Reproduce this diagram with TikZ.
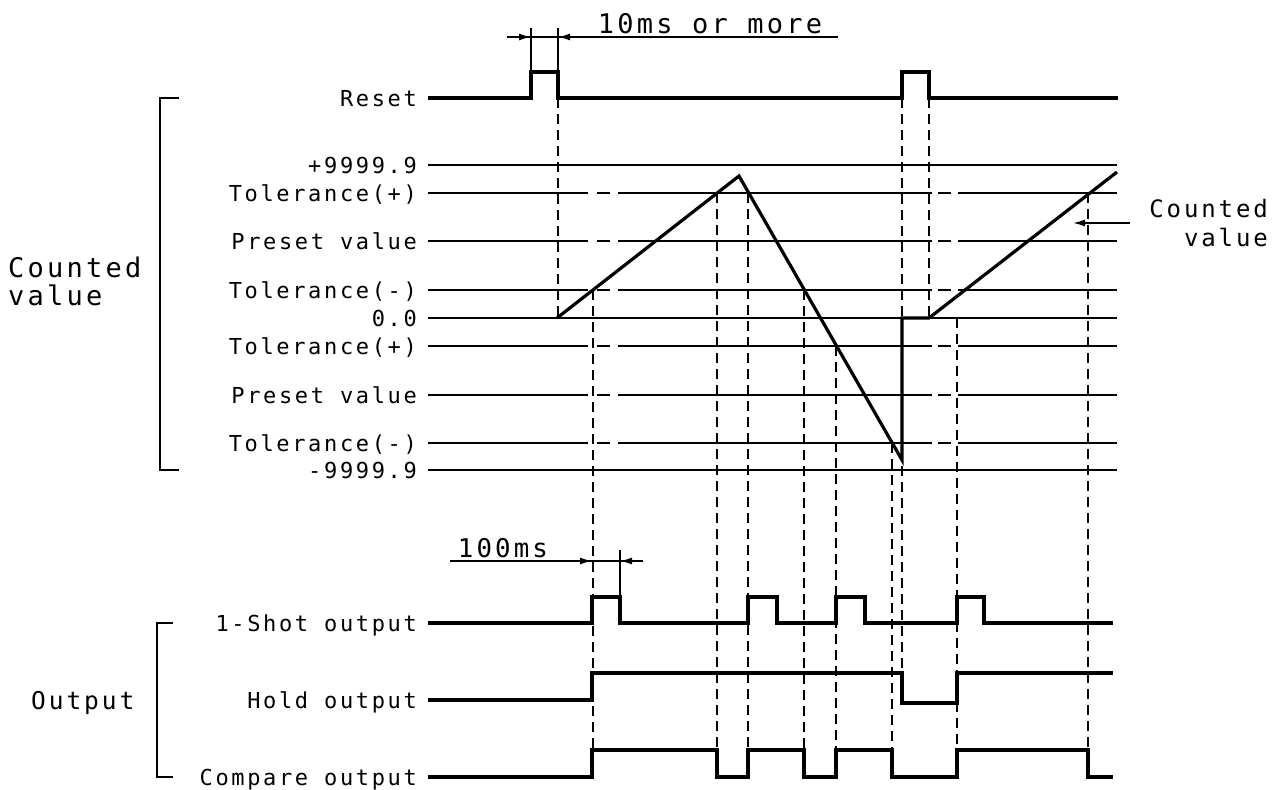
\documentclass[tikz,border=0pt]{standalone}
\usepackage{fontspec}
\usepackage{tikz}
\usetikzlibrary{positioning,arrows.meta}
\newfontfamily\plotter[LetterSpace=12]{DejaVu Sans Mono}
\tikzstyle{lbl}=[%
      anchor=base east, inner sep=0pt, font=\plotter\fontsize{22}{26}\selectfont
]
\tikzstyle{big}=[%
      inner sep=0pt, align=left, font=\plotter\fontsize{27}{28}\selectfont
]
\tikzstyle{level}=[line width=2.6pt]
\tikzstyle{sig}=[line width=3.2pt, line join=miter]
\tikzstyle{guide}=[line width=2.2pt, dash pattern=on 10pt off 6pt]
\tikzstyle{dim}=[line width=1.6pt, -{Latex[length=12pt,width=7pt]}]
\tikzstyle{tick}=[line width=1.2pt]
\begin{document}
\begin{tikzpicture}[x=1pt, y=-1pt]
    \useasboundingbox (0,0) rectangle (1283,790);

    % level labels
    \foreach \y/\txt/\nm in {98/Reset/rst, 165/+9999.9/max, 193/Tolerance(+)/tpa,
        241/Preset value/pra, 290/Tolerance(-)/tma, 318/0.0/zero, 346/Tolerance(+)/tpb,
        395/Preset value/prb, 443/Tolerance(-)/tmb, 470/-9999.9/min,
        623/1-Shot output/shot, 700/Hold output/hold, 777/Compare output/cmp}
      \node[lbl] (l-\nm) at (417,\y+8) {\txt};

    \node[big, anchor=base west] (cnt) at (8,305) {Counted\\value};
    \node[big, anchor=base west, font=\plotter\fontsize{24.5}{28}\selectfont]
        (out) at (31,709) {Output};
    \node[big, anchor=base east, align=right, font=\plotter\fontsize{24}{29}\selectfont]
        (cnt-r) at (1268,246) {Counted\\value};
    \node[big, anchor=base] (ten) at (710,33) {10ms or more};
    \node[big, anchor=base, font=\plotter\fontsize{25.8}{28}\selectfont]
        (hund) at (503,557) {100ms};

    % brackets
    \draw[level, line width=2pt] (179,98) -- (160,98) -- (160,470) -- (179,470);
    \draw[level, line width=2pt] (173,623) -- (157,623) -- (157,777) -- (173,777);

    % level lines
    \foreach \y in {165,318,470}
      \draw[level] (428,\y) -- (1117,\y);
    \foreach \y in {193,241,290,346,395,443}
      \draw[level] (428,\y) -- (588,\y) (597,\y) -- (610,\y) (618,\y) -- (932,\y)
                   (938,\y) -- (951,\y) (958,\y) -- (1117,\y);

    % guides
    \foreach \x/\a/\b in {558/98/318, 593/290/750, 717/193/750, 748/193/750,
        804/290/750, 836/346/750, 892/443/750, 902/98/673, 929/98/318,
        957/318/750, 1088/193/750}
      \draw[guide] (\x,\a) -- (\x,\b);

    % signals
    \draw[sig] (428,98) -- (531,98) -- (531,72) -- (558,72) -- (558,98) -- (902,98)
        -- (902,72) -- (929,72) -- (929,98) -- (1118,98);
    \draw[sig] (557,318) -- (739,176) -- (902,460) -- (902,318) -- (929,318) -- (1117,172);
    \draw[sig] (428,623) -- (592,623) -- (592,597) -- (620,597) -- (620,623) -- (748,623)
        -- (748,597) -- (777,597) -- (777,623) -- (836,623) -- (836,597) -- (865,597)
        -- (865,623) -- (957,623) -- (957,597) -- (984,597) -- (984,623) -- (1113,623);
    \draw[sig] (428,700) -- (592,700) -- (592,673) -- (902,673) -- (902,703) -- (957,703)
        -- (957,673) -- (1113,673);
    \draw[sig] (428,777) -- (592,777) -- (592,750) -- (717,750) -- (717,777) -- (748,777)
        -- (748,750) -- (804,750) -- (804,777) -- (836,777) -- (836,750) -- (892,750)
        -- (892,777) -- (957,777) -- (957,750) -- (1088,750) -- (1088,777) -- (1113,777);

    % dimensions
    \draw[tick] (531,28) -- (531,72) (558,28) -- (558,72);
    \draw[tick] (507,37) -- (838,37);
    \draw[dim] (507,37) -- (531,37);
    \draw[dim] (590,37) -- (558,37);
    \draw[tick] (620,550) -- (620,597);
    \draw[tick] (450,561) -- (643,561);
    \draw[dim] (560,561) -- (592,561);
    \draw[dim] (643,561) -- (620,561);
    \draw[dim] (1130,223) -- (1073,223);
\end{tikzpicture}
\end{document}
